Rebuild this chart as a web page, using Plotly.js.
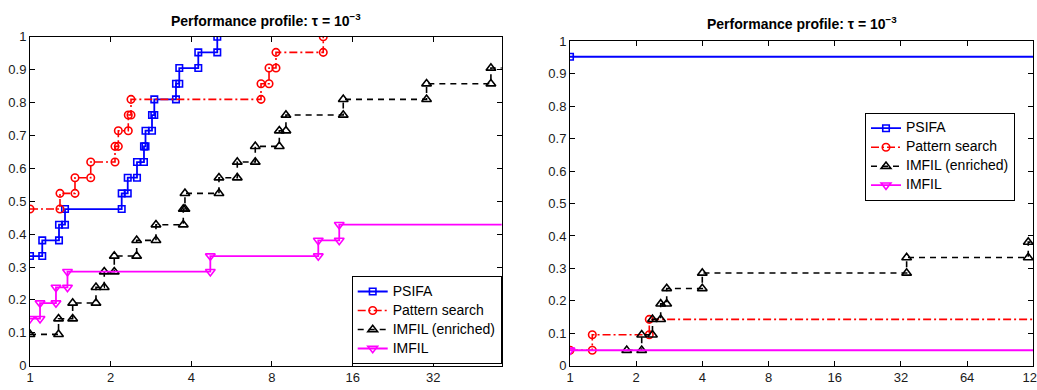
<!DOCTYPE html>
<html><head><meta charset="utf-8">
<script src="https://cdn.plot.ly/plotly-3.0.1.min.js"></script>
<style>html,body{margin:0;padding:0;background:#fff;}</style>
</head><body>
<div id="chart" style="width:1037px;height:390px"></div>
<script>
// number of test problems
const NP = 21;
const seriesNames = ['PSIFA', 'Pattern search', 'IMFIL (enriched)', 'IMFIL'];

// ---- Left panel: performance ratio at each step, and problems solved after the step ----
const psifaL_x = [1, 1.111, 1.283, 1.351, 2.199, 2.316, 2.508, 2.663, 2.698, 2.853, 2.910, 3.506, 3.607, 4.247, 5.0];
const psifaL_n = [7, 8, 9, 10, 11, 12, 13, 14, 15, 16, 17, 18, 19, 20, 21];
const patternL_x = [1, 1.294, 1.472, 1.685, 2.076, 2.136, 2.327, 2.382, 7.28, 7.80, 8.28, 12.43];
const patternL_n = [10, 11, 12, 13, 14, 15, 16, 17, 18, 19, 20, 21];
const imfilEnrL_x = [1, 1.278, 1.443, 1.763, 1.893, 2.063, 2.501, 2.952, 3.733, 3.787, 5.073, 5.937, 6.93, 8.52, 9.02, 14.76, 30.2, 52.5, 1000];
const imfilEnrL_n = [2, 3, 4, 5, 6, 7, 8, 9, 10, 11, 12, 13, 14, 15, 16, 17, 18, 19, 19];
const imfilL_x = [1, 1.09, 1.25, 1.38, 4.71, 11.91, 14.26, 1000];
const imfilL_n = [3, 4, 5, 6, 7, 8, 9, 9];

// ---- Right panel ----
const psifaR_x = [1, 1000];
const psifaR_n = [20, 20];
const patternR_x = [1, 1.263, 2.294, 1000];
const patternR_n = [1, 2, 3, 3];
const imfilEnrR_x = [1.811, 2.119, 2.372, 2.585, 2.753, 3.996, 33.97, 121.4, 1000];
const imfilEnrR_n = [1, 2, 3, 4, 5, 6, 7, 8, 8];
const imfilR_x = [1, 1000];
const imfilR_n = [1, 1];

// axis ticks
const leftXTicks = [1, 2, 4, 8, 16, 32];
const rightXTicks = [1, 2, 4, 8, 16, 32, 64, 128];
const yTicks = [0, 0.1, 0.2, 0.3, 0.4, 0.5, 0.6, 0.7, 0.8, 0.9, 1];
const yTickText = ['0', '0.1', '0.2', '0.3', '0.4', '0.5', '0.6', '0.7', '0.8', '0.9', '1'];
const titleText = '<b>Performance profile: τ = 10<sup>−3</sup></b>';

// stairs: vertices at both corners of each step
function stairs(xs, ns) {
  const X = [], Y = [];
  for (let i = 0; i < xs.length; i++) {
    if (i > 0) { X.push(xs[i]); Y.push(ns[i - 1] / NP); }
    if (i === 0 || ns[i] !== ns[i - 1]) { X.push(xs[i]); Y.push(ns[i] / NP); }
  }
  return {x: X, y: Y};
}

const styles = [
  {color: '#0000ff', dash: 'solid', width: 1.8, symbol: 'square-open', size: 6.5},
  {color: '#ff0000', dash: '8px,3px,2px,3px', width: 1.6, symbol: 'circle-open', size: 7.5},
  {color: '#000000', dash: '6px,5px', width: 1.6, symbol: 'triangle-up-open', size: 8.5},
  {color: '#ff00ff', dash: 'solid', width: 1.8, symbol: 'triangle-down-open', size: 8.5}
];

function makeTraces(data, xa, ya, legendId) {
  return data.map((d, i) => {
    const s = stairs(d[0], d[1]);
    const st = styles[i];
    return {
      x: s.x, y: s.y, xaxis: xa, yaxis: ya, type: 'scatter', mode: 'lines+markers',
      name: '<span style="font-size:14px">' + seriesNames[i] + '</span>', legend: legendId,
      line: {color: st.color, dash: st.dash, width: st.width},
      marker: {symbol: st.symbol, size: st.size, color: st.color, line: {color: st.color, width: 1.6}},
      hoverinfo: 'x+y'
    };
  });
}

const traces = [
  ...makeTraces([[psifaL_x, psifaL_n], [patternL_x, patternL_n], [imfilEnrL_x, imfilEnrL_n], [imfilL_x, imfilL_n]], 'x', 'y', 'legend'),
  ...makeTraces([[psifaR_x, psifaR_n], [patternR_x, patternR_n], [imfilEnrR_x, imfilEnrR_n], [imfilR_x, imfilR_n]], 'x2', 'y2', 'legend2')
];

const W = 1037, H = 390;
const FONT = 'Liberation Sans, Arial, sans-serif';
const tickFont = {family: FONT, size: 13, color: '#1a1a1a'};
function xAxis(domain, ticks, maxv, anchor) {
  return {type: 'log', domain: domain, range: [0, Math.log10(maxv)], anchor: anchor,
    tickvals: ticks, ticktext: ticks.map(String), ticks: 'inside', ticklen: 5, tickcolor: '#000',
    showline: true, linecolor: '#000', linewidth: 1, mirror: 'ticks', showgrid: false, zeroline: false,
    tickfont: tickFont, ticklabeloverflow: 'allow'};
}
function yAxis(domain, anchor) {
  return {domain: domain, range: [0, 1], anchor: anchor,
    tickvals: yTicks, ticktext: yTickText, ticks: 'inside', ticklen: 5, tickcolor: '#000',
    showline: true, linecolor: '#000', linewidth: 1, mirror: 'ticks', showgrid: false, zeroline: false,
    tickfont: tickFont};
}
const legendStyle = {bgcolor: '#fff', bordercolor: '#000', borderwidth: 1,
  font: {family: FONT, size: 11, color: '#000'}, tracegroupgap: 0};

const layout = {
  width: W, height: H, margin: {l: 0, r: 0, t: 0, b: 0}, paper_bgcolor: '#fff', plot_bgcolor: '#fff',
  xaxis: xAxis([30 / W, 501.7 / W], leftXTicks, 57.6, 'y'),
  yaxis: yAxis([24.3 / H, 353.3 / H], 'x'),
  xaxis2: xAxis([570 / W, 1033.3 / W], rightXTicks, 128, 'y2'),
  yaxis2: yAxis([24.3 / H, 348.7 / H], 'x2'),
  legend: Object.assign({x: 501.7 / W, xanchor: 'right', y: (H - 364) / H, yanchor: 'bottom'}, legendStyle),
  legend2: Object.assign({x: 865 / W, xanchor: 'left', y: (H - 112.7) / H, yanchor: 'top'}, legendStyle),
  showlegend: true,
  annotations: [
    {text: titleText, xref: 'paper', yref: 'paper', x: 265.8 / W, y: (H - 20) / H, xanchor: 'center', yanchor: 'middle',
     showarrow: false, font: {family: FONT, size: 14, color: '#000'}},
    {text: titleText, xref: 'paper', yref: 'paper', x: 801.7 / W, y: (H - 23.3) / H, xanchor: 'center', yanchor: 'middle',
     showarrow: false, font: {family: FONT, size: 14, color: '#000'}}
  ]
};

Plotly.newPlot('chart', traces, layout, {staticPlot: true, displayModeBar: false});
</script>
</body></html>
